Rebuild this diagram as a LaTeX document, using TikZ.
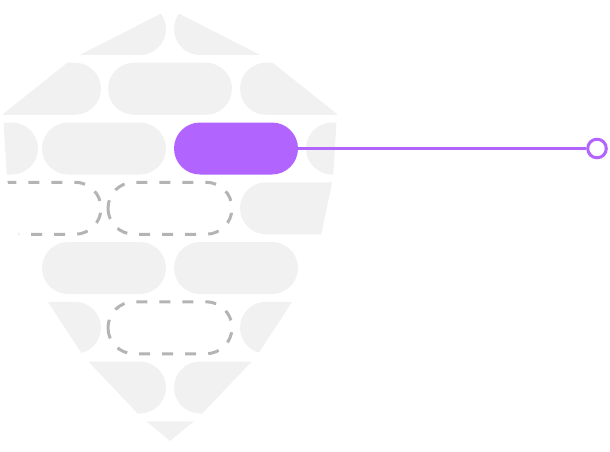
\documentclass[tikz,border=0pt]{standalone}
\definecolor{brickgray}{HTML}{F1F1F1}
\definecolor{dashgray}{HTML}{B4B4B4}
\definecolor{selviolet}{HTML}{B264FF}
\begin{document}
\begin{tikzpicture}[x=1pt,y=-1pt,
  brick/.style={fill=brickgray,rounded corners=26pt},
  gapbrick/.style={draw=dashgray,line width=3pt,dash pattern=on 11pt off 12pt,rounded corners=26pt},
  selbrick/.style={fill=selviolet,rounded corners=26pt,minimum width=124pt,minimum height=52pt,inner sep=0pt},
  endring/.style={circle,draw=selviolet,line width=3pt,fill=white,minimum size=18.6pt,inner sep=0pt}]

\useasboundingbox (0,0) rectangle (610,452);

% ряды: центры по высоте
\def\yA{29}
\def\yB{88.75}
\def\yC{148.5}
\def\yD{208.25}
\def\yE{268}
\def\yF{327.75}
\def\yG{387.5}
\def\yH{447.25}

%=== Щит из кирпичей ===
\begin{scope}
  \clip (170,9) -- (268,59) -- (337,114) -- (333,179) -- (320,240) -- (296,296)
    -- (256,357) -- (199,417) -- (170,441) -- (141,417) -- (84,357) -- (44,296)
    -- (20,240) -- (7,179) -- (3,114) -- (72,59) -- cycle;

  % нечётные ряды
  \foreach \yc in {\yA,\yE,\yG}
    \foreach \a in {42,174}
      \fill[brick] (\a,\yc-26) rectangle ++(124,52);
  \foreach \a in {-86,42,306}
    \fill[brick] (\a,\yC-26) rectangle ++(124,52);

  % чётные ряды
  \foreach \a in {-23,108,240}
    \fill[brick] (\a,\yB-26) rectangle ++(124,52);
  \fill[brick] (240,\yD-26) rectangle ++(124,52);
  \foreach \a in {-23,240}
    \fill[brick] (\a,\yF-26) rectangle ++(124,52);
  \fill[brick] (108,\yH-26) rectangle ++(124,52);

  % пустые места (пунктир)
  \draw[gapbrick] (-23,\yD-26) rectangle ++(124,52);
  \draw[gapbrick] (108,\yD-26) rectangle ++(124,52);
  \draw[gapbrick] (108,\yF-26) rectangle ++(124,52);
\end{scope}

% выбранный кирпич и выноска
\node[selbrick] (sel) at (236,\yC) {};
\node[endring] (tip) at (597,\yC) {};
\draw[selviolet,line width=3pt] (sel.east) -- (tip.west);

\end{tikzpicture}
\end{document}
